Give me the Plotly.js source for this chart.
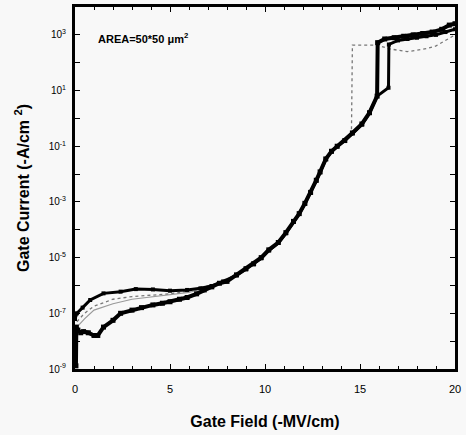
<!DOCTYPE html>
<html>
<head>
<meta charset="utf-8">
<script src="https://cdn.plot.ly/plotly-3.0.1.min.js"></script>
<style>html,body{margin:0;padding:0;background:#f8f8f8;}</style>
</head>
<body>
<div id="chart" style="width:466px;height:435px;"></div>
<script>
// Gate field (-MV/cm) and gate current density (-A/cm^2)
const mainX = [0.05, 0.07, 0.15, 0.3, 0.45, 0.7, 1.0, 1.2, 1.5, 2.0, 2.4, 3.0, 3.5, 4.1, 4.6, 5.0, 5.5, 5.9, 6.4, 6.8, 7.2, 7.6, 8.0, 8.5, 9.0, 9.4, 9.8, 10.2, 10.7, 11.1, 11.5, 11.8, 12.1, 12.4, 12.7, 12.9, 13.2, 13.5, 13.8, 14.2, 14.6, 15.1, 15.5, 15.9, 15.93, 16.3, 16.8, 17.3, 17.8, 18.3, 18.8, 19.3, 19.7, 20.0];
const mainY = [1.3e-9, 3.2e-8, 2.5e-8, 2.0e-8, 2.2e-8, 2.0e-8, 1.6e-8, 1.6e-8, 3.2e-8, 5.6e-8, 1.0e-7, 1.3e-7, 1.6e-7, 2.0e-7, 2.3e-7, 2.6e-7, 3.2e-7, 3.7e-7, 5.0e-7, 6.9e-7, 8.9e-7, 1.2e-6, 1.4e-6, 2.4e-6, 4.0e-6, 6.0e-6, 1.0e-5, 1.9e-5, 3.5e-5, 7.9e-5, 2.0e-4, 3.8e-4, 8.9e-4, 2.2e-3, 6.0e-3, 1.2e-2, 3.5e-2, 6.6e-2, 0.1, 0.16, 0.30, 0.63, 1.6, 6.3, 525, 710, 790, 890, 1000, 1120, 1260, 1580, 2240, 2510];

const upperX = [0.0, 0.1, 0.4, 0.8, 1.5, 2.4, 3.2, 4.1, 5.0, 5.9, 6.6, 7.2, 7.8, 8.5, 9.0, 9.4, 9.8, 10.2, 10.7, 11.1, 11.5, 11.8, 12.1, 12.4, 12.7, 12.9, 13.2, 13.5, 13.8, 14.2, 14.6, 15.1, 15.5, 15.9, 16.5, 16.52, 17.0, 17.5, 18.0, 18.5, 19.0, 19.5, 20.0];
const upperY = [6.3e-8, 1.0e-7, 1.6e-7, 3.0e-7, 5.2e-7, 6.0e-7, 7.4e-7, 7.2e-7, 6.5e-7, 6.9e-7, 7.9e-7, 9.5e-7, 1.4e-6, 2.3e-6, 3.8e-6, 5.8e-6, 9.5e-6, 1.8e-5, 3.4e-5, 7.5e-5, 1.9e-4, 3.7e-4, 8.5e-4, 2.1e-3, 5.8e-3, 1.15e-2, 3.4e-2, 6.4e-2, 0.098, 0.155, 0.29, 0.6, 1.55, 6.3, 12.6, 450, 630, 710, 790, 890, 1000, 1260, 1580];

const dotX = [0.1, 0.5, 1.0, 2.0, 3.0, 4.0, 5.0, 6.0, 7.0, 7.6, 8.0, 8.5, 9.0, 9.4, 9.8, 10.2, 10.7, 11.1, 11.5, 11.8, 12.1, 12.4, 12.7, 12.9, 13.2, 13.5, 14.0, 14.55, 14.6, 15.9, 16.5, 17.0, 17.5, 18.0, 18.5, 19.0, 19.5, 20.0];
const dotY = [5.0e-8, 1.0e-7, 1.8e-7, 3.2e-7, 4.0e-7, 4.5e-7, 5.0e-7, 6.3e-7, 1.0e-6, 1.25e-6, 1.5e-6, 2.5e-6, 4.2e-6, 6.3e-6, 1.05e-5, 2.0e-5, 3.6e-5, 8.2e-5, 2.1e-4, 4.0e-4, 9.3e-4, 2.3e-3, 6.2e-3, 1.25e-2, 3.6e-2, 6.8e-2, 0.13, 0.32, 430, 430, 320, 280, 250, 280, 320, 400, 630, 1000];

const greyX = [0.1, 0.5, 1.0, 2.0, 3.0, 4.0, 5.0, 6.0, 7.0];
const greyY = [3.2e-8, 6.3e-8, 1.3e-7, 2.2e-7, 3.2e-7, 3.8e-7, 4.5e-7, 5.6e-7, 8.9e-7];

const yTickVals = [1e-9, 1e-8, 1e-7, 1e-6, 1e-5, 1e-4, 1e-3, 1e-2, 1e-1, 1, 10, 100, 1000, 10000];
const yTickText = ['10<sup>-9</sup>', '', '10<sup>-7</sup>', '', '10<sup>-5</sup>', '', '10<sup>-3</sup>', '', '10<sup>-1</sup>', '', '10<sup>1</sup>', '', '10<sup>3</sup>', ''];
const xTickVals = [0, 5, 10, 15, 20];

const traces = [
  {x: greyX, y: greyY, mode: 'lines', line: {color: '#9a9a9a', width: 1.2}, hoverinfo: 'skip'},
  {x: dotX, y: dotY, mode: 'lines', line: {color: '#777777', width: 1.3, dash: 'dot'}, hoverinfo: 'skip'},
  {x: upperX, y: upperY, mode: 'lines+markers', line: {color: '#000', width: 3}, marker: {symbol: 'square', size: 4, color: '#000'}, hoverinfo: 'skip'},
  {x: mainX, y: mainY, mode: 'lines+markers', line: {color: '#000', width: 4}, marker: {symbol: 'square', size: 5, color: '#000'}, hoverinfo: 'skip'}
];

const layout = {
  width: 466, height: 435,
  paper_bgcolor: '#f8f8f8', plot_bgcolor: '#f8f8f8',
  margin: {l: 75, r: 11, t: 7, b: 66},
  showlegend: false,
  font: {family: 'Liberation Sans, Arial, sans-serif', color: '#000'},
  xaxis: {
    range: [0, 20], tickvals: xTickVals, ticktext: ['0', '5', '10', '15', '20'],
    ticks: 'inside', ticklen: 5, tickwidth: 1, tickcolor: '#000',
    minor: {dtick: 1, ticks: 'inside', ticklen: 3, tickcolor: '#000'},
    showline: true, linewidth: 3, linecolor: '#000', mirror: 'allticks',
    showgrid: false, zeroline: false,
    tickfont: {size: 11}, ticklabelstandoff: 8,
    title: {text: '<b>Gate Field (-MV/cm)</b>', font: {size: 16}, standoff: 22}
  },
  yaxis: {
    type: 'log', range: [-9, 4], tickvals: yTickVals, ticktext: yTickText,
    ticks: 'inside', ticklen: 5, tickwidth: 1, tickcolor: '#000',
    showline: true, linewidth: 3, linecolor: '#000', mirror: 'allticks',
    showgrid: false, zeroline: false,
    tickfont: {size: 10}, ticklabelstandoff: 4,
    title: {text: '<b>Gate Current (-A/cm <sup>2</sup>)</b>', font: {size: 16}, standoff: 16}
  },
  annotations: [{
    xref: 'paper', yref: 'paper', x: 0.055, y: 0.915, xanchor: 'left', yanchor: 'middle',
    showarrow: false, text: '<b>AREA=50*50 μm<sup>2</sup></b>', font: {size: 11, color: '#000'}
  }]
};

Plotly.newPlot('chart', traces, layout, {displayModeBar: false, staticPlot: true});
</script>
</body>
</html>
